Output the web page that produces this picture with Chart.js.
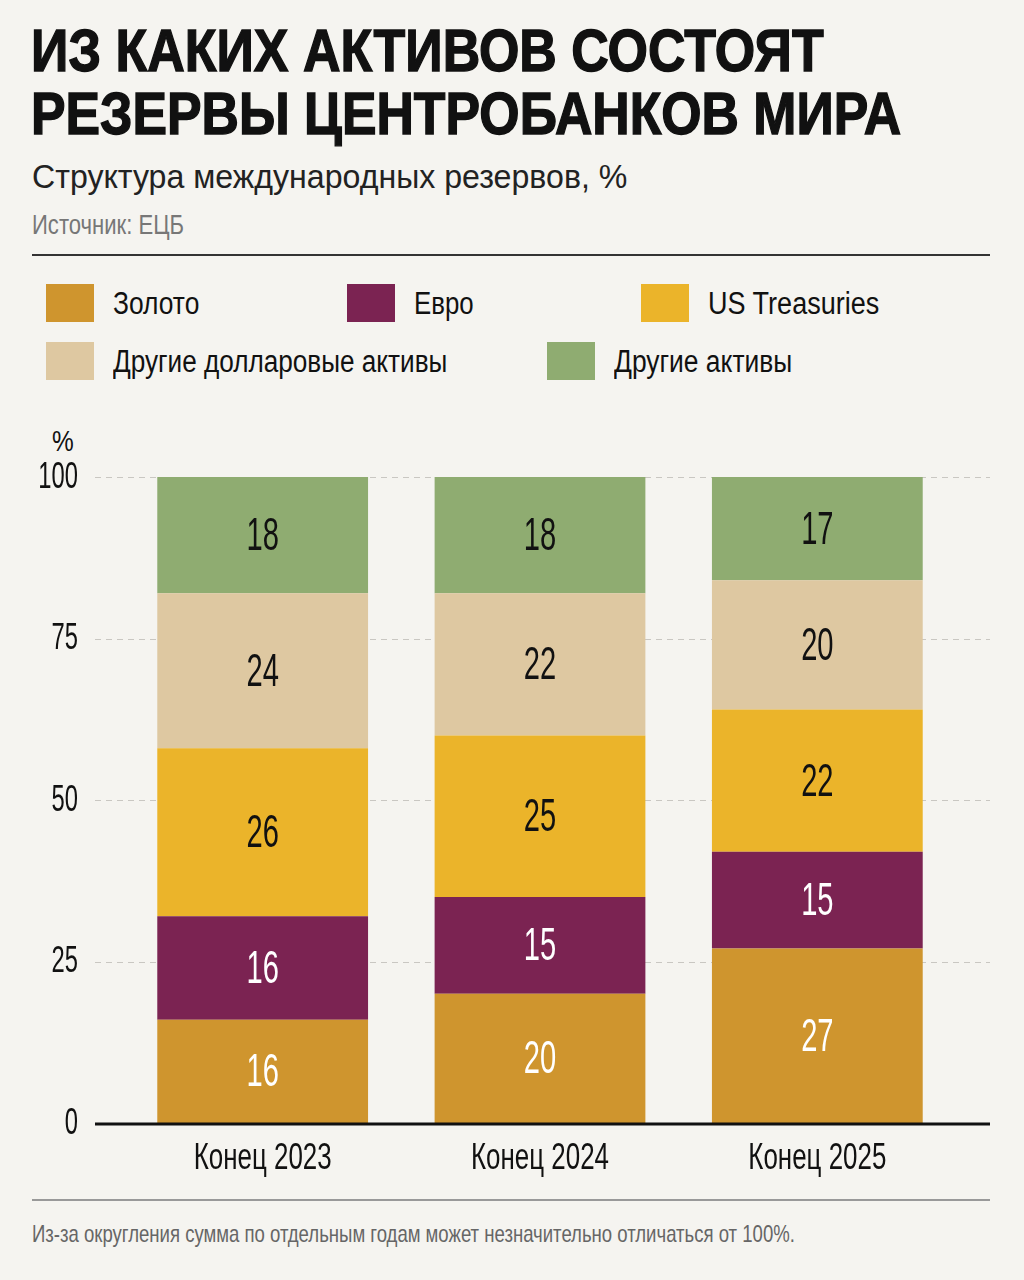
<!DOCTYPE html>
<html lang="ru">
<head>
<meta charset="utf-8">
<script src="https://cdn.jsdelivr.net/npm/chart.js@4"></script>
<style>
  html, body { margin: 0; padding: 0; }
  body {
    width: 1024px; height: 1280px; background: #f5f4f0; position: relative; overflow: hidden;
    font-family: "Liberation Sans", Arial, sans-serif; color: #111;
  }
  .abs { position: absolute; white-space: nowrap; display: inline-block; transform-origin: 0 0; }
  .t1 { left: 31px; font-size: 60px; font-weight: bold; line-height: 60px; -webkit-text-stroke: 1.4px #111; color: #111; }
  #title1 { top: 21px; }
  #title2 { top: 84px; }
  #subtitle { left: 32px; top: 157px; font-size: 34px; line-height: 38px; color: #222; }
  #source { left: 32px; top: 210px; font-size: 27px; line-height: 30px; color: #777; }
  .rule { position: absolute; left: 32px; width: 958px; }
  #rule1 { top: 254px; height: 2px; background: #333; }
  #rule2 { top: 1199px; height: 2px; background: #999; }
  .lg { font-size: 31px; line-height: 38px; }
  .sw { position: absolute; width: 48px; height: 38px; }
  #pct { left: 52px; top: 425px; font-size: 30px; line-height: 32px; }
  #note { left: 32px; top: 1220px; font-size: 24px; line-height: 28px; color: #666; }
  #wrap { position: absolute; left: 0; top: 400px; width: 1024px; height: 790px; }
</style>
</head>
<body>
<div id="title1" class="abs t1">ИЗ КАКИХ АКТИВОВ СОСТОЯТ</div>
<div id="title2" class="abs t1">РЕЗЕРВЫ ЦЕНТРОБАНКОВ МИРА</div>
<div id="subtitle" class="abs">Структура международных резервов, %</div>
<div id="source" class="abs">Источник: ЕЦБ</div>
<div id="rule1" class="rule"></div>
<div id="legend"></div>
<div id="pct" class="abs">%</div>
<div id="wrap"><canvas id="chart"></canvas></div>
<div id="rule2" class="rule"></div>
<div id="note" class="abs">Из-за округления сумма по отдельным годам может незначительно отличаться от 100%.</div>
<script>
// data
const categories = ['Конец 2023', 'Конец 2024', 'Конец 2025'];
const seriesNames = ['Золото', 'Евро', 'US Treasuries', 'Другие долларовые активы', 'Другие активы'];
const gold = [16, 20, 27];
const euro = [16, 15, 15];
const treasuries = [26, 25, 22];
const otherDollar = [24, 22, 20];
const otherAssets = [18, 18, 17];
const yTicks = [0, 25, 50, 75, 100];

const colors = ['#cf952e', '#7b2352', '#ebb42a', '#dec8a1', '#8fac71'];
const labelColors = ['#ffffff', '#ffffff', '#111111', '#111111', '#111111'];
const fontFamily = '"Liberation Sans", Arial, sans-serif';
const narrow = 0.66; // horizontal squeeze for the condensed look

// squeeze an html text block to a given width
function fit(el, width) {
    const w = el.offsetWidth;
    el.style.transform = 'scaleX(' + (width / w) + ')';
}

// legend (HTML)
const legendPos = [[46, 284], [347, 284], [641, 284], [46, 342], [547, 342]];
const legendWidths = [86, 60, 171, 334, 178];
const legendEl = document.getElementById('legend');
seriesNames.forEach((name, i) => {
    const sw = document.createElement('div');
    sw.className = 'sw';
    sw.style.left = legendPos[i][0] + 'px';
    sw.style.top = legendPos[i][1] + 'px';
    sw.style.background = colors[i];
    legendEl.appendChild(sw);
    const lb = document.createElement('div');
    lb.className = 'abs lg';
    lb.textContent = name;
    lb.style.left = (legendPos[i][0] + 67) + 'px';
    lb.style.top = (legendPos[i][1] + 1) + 'px';
    legendEl.appendChild(lb);
    fit(lb, legendWidths[i]);
});

fit(document.getElementById('title1'), 793);
fit(document.getElementById('title2'), 870);
fit(document.getElementById('subtitle'), 595);
fit(document.getElementById('source'), 152);
fit(document.getElementById('note'), 763);
fit(document.getElementById('pct'), 22);

function squeezedText(ctx, text, x, y, sx) {
    ctx.save();
    ctx.translate(x, y);
    ctx.scale(sx, 1);
    ctx.fillText(text, 0, 0);
    ctx.restore();
}

// gridlines + baseline wider than the chart area
const gridPlugin = {
    id: 'gridPlugin',
    beforeDatasetsDraw(chart) {
        const ctx = chart.ctx;
        const y = chart.scales.y;
        ctx.save();
        ctx.strokeStyle = '#c9c7c2';
        ctx.lineWidth = 1;
        ctx.setLineDash([6, 5]);
        yTicks.forEach(v => {
            if (v === 0) return;
            const py = Math.round(y.getPixelForValue(v)) + 0.5;
            ctx.beginPath();
            ctx.moveTo(95, py);
            ctx.lineTo(990, py);
            ctx.stroke();
        });
        ctx.restore();
    },
    afterDatasetsDraw(chart) {
        const ctx = chart.ctx;
        const y = chart.scales.y;
        const x = chart.scales.x;
        ctx.save();
        ctx.strokeStyle = '#111';
        ctx.lineWidth = 3;
        const py = y.getPixelForValue(0) + 1;
        ctx.beginPath();
        ctx.moveTo(95, py);
        ctx.lineTo(990, py);
        ctx.stroke();

        // tick labels, condensed
        ctx.fillStyle = '#111';
        ctx.textBaseline = 'middle';
        ctx.font = '36px ' + fontFamily;
        ctx.textAlign = 'right';
        yTicks.forEach(v => squeezedText(ctx, String(v), 78, y.getPixelForValue(v) + 1, narrow));
        ctx.textAlign = 'center';
        categories.forEach((c, i) => squeezedText(ctx, c, x.getPixelForTick(i), chart.chartArea.bottom + 36, 0.72));
        ctx.restore();
    }
};

// value labels inside segments
const valuePlugin = {
    id: 'valuePlugin',
    afterDatasetsDraw(chart) {
        const ctx = chart.ctx;
        ctx.save();
        ctx.font = '47px ' + fontFamily;
        ctx.textAlign = 'center';
        ctx.textBaseline = 'middle';
        chart.data.datasets.forEach((ds, i) => {
            chart.getDatasetMeta(i).data.forEach((bar, j) => {
                const top = Math.max(bar.y, chart.chartArea.top);
                ctx.fillStyle = labelColors[i];
                squeezedText(ctx, String(ds.data[j]), bar.x, (top + bar.base) / 2 + 2, 0.62);
            });
        });
        ctx.restore();
    }
};

const series = [gold, euro, treasuries, otherDollar, otherAssets];
new Chart(document.getElementById('chart'), {
    type: 'bar',
    data: {
        labels: categories,
        datasets: series.map((d, i) => ({
            label: seriesNames[i],
            data: d,
            backgroundColor: colors[i],
            borderWidth: 0,
            categoryPercentage: 0.76,
            barPercentage: 1
        }))
    },
    options: {
        responsive: true,
        maintainAspectRatio: false,
        animation: false,
        layout: { padding: { top: 77, right: 68, left: 0, bottom: 0 } },
        plugins: { legend: { display: false }, tooltip: { enabled: false } },
        scales: {
            x: {
                stacked: true,
                grid: { display: false },
                border: { display: false },
                ticks: { display: false },
                afterFit(scale) { scale.height = 67; }
            },
            y: {
                stacked: true,
                min: 0,
                max: 100,
                afterBuildTicks(scale) { scale.ticks = yTicks.map(v => ({ value: v })); },
                grid: { display: false, drawTicks: false },
                border: { display: false },
                ticks: { display: false },
                afterFit(scale) { scale.width = 124; }
            }
        }
    },
    plugins: [gridPlugin, valuePlugin]
});
</script>
</body>
</html>
